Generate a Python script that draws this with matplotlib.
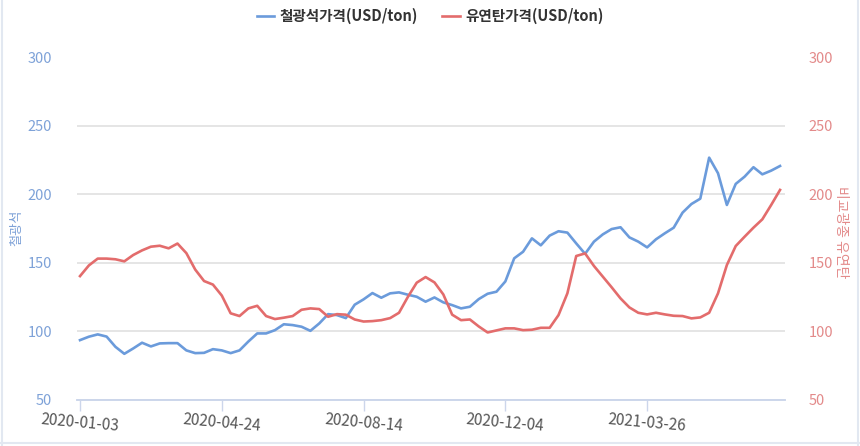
import matplotlib.pyplot as plt
import matplotlib.lines as mlines
import numpy as np
import pandas as pd

plt.rcParams['font.family'] = ['Noto Sans CJK KR', 'DejaVu Sans']

# weekly dates (Fridays) from 2020-01-03
dates = pd.date_range('2020-01-03', periods=80, freq='7D').strftime('%Y-%m-%d').tolist()

# 철광석가격 (USD/ton)
iron_ore = [
    93.4, 95.9, 97.6, 96.0, 88.5, 83.4, 87.3, 91.5, 88.8, 91.0,
    91.2, 91.2, 85.9, 83.9, 84.1, 86.8, 85.9, 83.9, 85.9, 92.4,
    98.3, 98.3, 100.7, 105.0, 104.4, 103.2, 100.2, 105.6, 112.4, 111.7,
    109.5, 119.3, 123.2, 127.8, 124.4, 127.6, 128.3, 126.6, 125.1, 121.5,
    124.6, 121.0, 119.0, 116.6, 117.8, 123.4, 127.3, 128.8, 136.3, 153.2,
    158.0, 167.8, 162.7, 169.8, 173.0, 172.0, 164.1, 156.5, 165.4, 170.7,
    174.6, 175.9, 168.5, 165.4, 161.2, 167.1, 171.5, 175.6, 186.6, 192.9,
    196.8, 226.8, 215.4, 192.2, 207.6, 212.9, 219.8, 214.6, 217.3, 220.7,
]

# 유연탄가격 (USD/ton)
coking_coal = [
    140.2, 148.0, 153.0, 153.0, 152.5, 151.0, 155.6, 159.0, 161.7, 162.4,
    160.5, 164.0, 157.0, 145.0, 136.6, 134.0, 126.0, 113.0, 111.0, 116.6,
    118.5, 111.0, 108.8, 109.8, 111.0, 115.6, 116.6, 116.1, 110.5, 112.4,
    112.0, 108.5, 107.0, 107.3, 108.0, 109.5, 113.4, 125.0, 135.4, 139.5,
    135.6, 126.8, 112.0, 108.0, 108.5, 103.4, 99.0, 100.5, 102.0, 102.0,
    100.7, 101.0, 102.4, 102.4, 111.7, 127.6, 154.9, 156.8, 147.6, 139.8,
    132.0, 123.9, 117.3, 113.4, 112.2, 113.4, 112.2, 111.2, 111.0, 109.3,
    110.0, 113.4, 127.6, 148.3, 162.2, 169.0, 175.6, 181.7, 192.2, 203.2,
]

labels = ['철광석가격(USD/ton)', '유연탄가격(USD/ton)']
left_title = '철광석'
right_title = '비교광종 유연탄'
y_ticks = [50, 100, 150, 200, 250, 300]
tick_step = 16

blue = '#6b9bdb'
red = '#e36c6c'
x = np.arange(len(dates))

fig = plt.figure(figsize=(8.6, 4.46), dpi=100)
ax = fig.add_axes([77 / 860, 1 - 399.5 / 446, (785 - 77) / 860, (399.5 - 57.5) / 446])
ax2 = ax.twinx()

l1, = ax.plot(x, iron_ore, color=blue, lw=1.9, solid_joinstyle='round', zorder=3)
l2, = ax2.plot(x, coking_coal, color=red, lw=1.9, solid_joinstyle='round', zorder=3)

for a in (ax, ax2):
    a.set_ylim(50, 300)
    a.set_yticks(y_ticks)
    a.set_xlim(-0.34, len(dates) - 1 + 0.56)
    for s in ('top', 'left', 'right'):
        a.spines[s].set_visible(False)
    a.spines['bottom'].set_color('#ccd6eb')
    a.spines['bottom'].set_linewidth(1.2)

ax.grid(axis='y', color='#e3e3e3', lw=1.3)
ax.set_axisbelow(True)
ax.tick_params(axis='y', length=0, pad=18, labelsize=10.5, labelcolor='#7ea2d8')
ax2.tick_params(axis='y', length=0, pad=17, labelsize=10.5, labelcolor='#e38a8a')

ax.set_xticks(x[::tick_step])
ax.set_xticklabels([dates[i] for i in x[::tick_step]], rotation=-5, fontsize=11, color='#555555')
ax.tick_params(axis='x', length=8, width=1, color='#ccd6eb', pad=0)

# axis titles placed in figure pixels
fig.text(17 / 860, 1 - 228 / 446, left_title, rotation=90, ha='center', va='center',
         color='#7ea2d8', fontsize=9.5)
fig.text(841 / 860, 1 - 232 / 446, right_title, rotation=270, ha='center', va='center',
         color='#e38a8a', fontsize=10)

fig.legend([l1, l2], labels, loc='center', bbox_to_anchor=(430 / 860, 1 - 16 / 446),
           ncol=2, frameon=False, handlelength=1.2, handletextpad=0.35, columnspacing=1.7,
           prop={'weight': 'bold', 'size': 10.5}, labelcolor='#333333')

# light container border
for xs, ys in (([0.002, 0.002], [0, 1]), ([0, 1], [0.0067, 0.0067]), ([0.9975, 0.9975], [0, 1])):
    fig.add_artist(mlines.Line2D(xs, ys, transform=fig.transFigure, color='#e2e8f1', lw=1.5))

fig.savefig('out.png', dpi=100)
